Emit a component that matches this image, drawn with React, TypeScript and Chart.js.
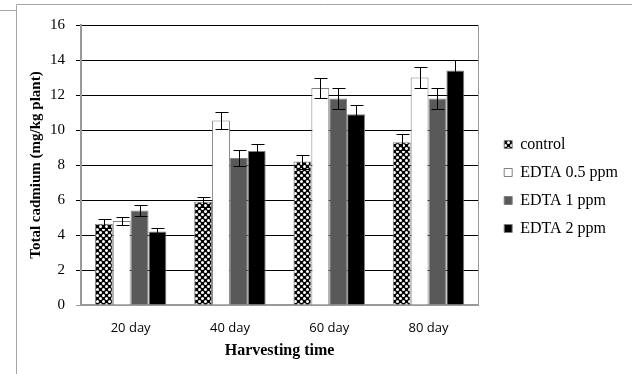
import React, { useEffect, useRef } from 'react';
import { Chart, registerables } from 'chart.js';
Chart.register(...registerables);

const categories = ['20 day', '40 day', '60 day', '80 day'];
const seriesNames = ['control', 'EDTA 0.5 ppm', 'EDTA 1 ppm', 'EDTA 2 ppm'];
const control = [4.65, 5.9, 8.2, 9.3];
const edta05 = [4.8, 10.55, 12.4, 13.0];
const edta1 = [5.4, 8.4, 11.8, 11.8];
const edta2 = [4.2, 8.8, 10.9, 13.4];
const controlErr = [0.25, 0.3, 0.4, 0.45];
const edta05Err = [0.22, 0.48, 0.6, 0.62];
const edta1Err = [0.3, 0.45, 0.6, 0.62];
const edta2Err = [0.22, 0.4, 0.55, 0.6];
const yTicks = [0, 2, 4, 6, 8, 10, 12, 14, 16];

const SERIF = "'Liberation Serif', 'Times New Roman', serif";
const SANS = "'Open Sans', 'Liberation Sans', sans-serif";

const errorBars = {
  id: 'errorBars',
  afterDatasetsDraw(chart: any) {
    const ctx = chart.ctx;
    const y = chart.scales.y;
    chart.data.datasets.forEach((ds: any, i: number) => {
      const meta = chart.getDatasetMeta(i);
      meta.data.forEach((bar: any, j: number) => {
        const v = ds.data[j];
        const e = ds.errors[j];
        const yt = Math.round(y.getPixelForValue(v + e)) + 0.5;
        const yb = Math.round(y.getPixelForValue(v - e)) + 0.5;
        const x = Math.round(bar.x) + 0.5;
        ctx.save();
        ctx.strokeStyle = '#000';
        ctx.lineWidth = 1;
        ctx.beginPath();
        ctx.moveTo(x, yt);
        ctx.lineTo(x, yb);
        ctx.moveTo(x - 6, yt);
        ctx.lineTo(x + 7, yt);
        ctx.moveTo(x - 6, yb);
        ctx.lineTo(x + 7, yb);
        ctx.stroke();
        ctx.restore();
      });
    });
  },
};

const frame = {
  id: 'frame',
  beforeDraw(chart: any) {
    const ctx = chart.ctx;
    ctx.save();
    ctx.fillStyle = '#fff';
    ctx.fillRect(0, 0, chart.width, chart.height);
    ctx.strokeStyle = '#a6a6a6';
    ctx.lineWidth = 1;
    ctx.beginPath();
    ctx.moveTo(16.5, chart.height);
    ctx.lineTo(16.5, 4.5);
    ctx.lineTo(chart.width, 4.5);
    ctx.moveTo(0, 10.5);
    ctx.lineTo(16, 10.5);
    ctx.stroke();
    ctx.restore();
  },
};

export default function App() {
  const ref = useRef<HTMLCanvasElement>(null);
  useEffect(() => {
    const canvas = ref.current!;
    const pc = document.createElement('canvas');
    pc.width = 6;
    pc.height = 6;
    const p = pc.getContext('2d')!;
    p.fillStyle = '#000';
    p.fillRect(0, 0, 6, 6);
    p.fillStyle = '#fff';
    p.beginPath();
    p.arc(1.5, 1.5, 1.5, 0, Math.PI * 2);
    p.arc(4.5, 4.5, 1.5, 0, Math.PI * 2);
    p.fill();
    const pattern = canvas.getContext('2d')!.createPattern(pc, 'repeat');

    const fills: any[] = [pattern, '#ffffff', '#595959', '#000000'];
    const values = [control, edta05, edta1, edta2];
    const errs = [controlErr, edta05Err, edta1Err, edta2Err];

    const chart = new Chart(canvas, {
      type: 'bar',
      data: {
        labels: categories,
        datasets: seriesNames.map((name, i) => ({
          label: name,
          data: values[i],
          errors: errs[i],
          backgroundColor: fills[i],
          borderColor: '#808080',
          borderWidth: 1,
          categoryPercentage: 0.72,
          barPercentage: 1.0,
        })) as any,
      },
      options: {
        responsive: false,
        animation: false,
        devicePixelRatio: 1,
        layout: { padding: { top: 9, left: 20, bottom: 10, right: 4 } },
        plugins: {
          tooltip: { enabled: false },
          title: {
            display: true,
            text: ' ',
            fullSize: false,
            font: { size: 10 },
            padding: { top: 0, bottom: 4 },
          },
          legend: {
            position: 'right',
            maxWidth: 220,
            labels: {
              boxWidth: 8,
              boxHeight: 8,
              padding: 12,
              color: '#000',
              font: { family: SERIF, size: 16 },
            },
          },
        },
        scales: {
          x: {
            grid: { display: false },
            border: { color: '#999', width: 2 },
            ticks: { color: '#000', font: { family: SANS, size: 13 }, padding: 7 },
            title: {
              display: true,
              text: 'Harvesting time',
              color: '#000',
              font: { family: SERIF, size: 16, weight: 'bold' },
              padding: { top: 0, bottom: 4 },
            },
            afterFit: (s: any) => { s.height = 59; },
          },
          y: {
            min: 0,
            max: 16,
            afterBuildTicks: (s: any) => { s.ticks = yTicks.map((v) => ({ value: v })); },
            grid: {
              color: (c: any) => (c.tick && c.tick.value === 0 ? '#999' : '#000'),
              lineWidth: 1,
              tickLength: 5,
            },
            border: { color: '#999', width: 2 },
            ticks: { color: '#000', font: { family: SERIF, size: 15 }, padding: 11 },
            title: {
              display: true,
              text: 'Total cadmium (mg/kg plant)',
              color: '#000',
              font: { family: SERIF, size: 15, weight: 'bold' },
              padding: { top: 7, bottom: 0 },
            },
            afterFit: (s: any) => { s.width = 61; },
          },
          yR: {
            position: 'right',
            min: 0,
            max: 16,
            grid: { drawOnChartArea: false, drawTicks: false },
            ticks: { display: false },
            border: { color: '#999', width: 1 },
            afterFit: (s: any) => { s.width = 14; },
          },
        },
      } as any,
      plugins: [frame, errorBars],
    });
    return () => chart.destroy();
  }, []);
  return (
    <div style={{ position: 'fixed', left: 0, top: 0, width: 632, height: 374, background: '#fff' }}>
      <canvas ref={ref} width={632} height={374} style={{ display: 'block', width: 632, height: 374 }} />
    </div>
  );
}
